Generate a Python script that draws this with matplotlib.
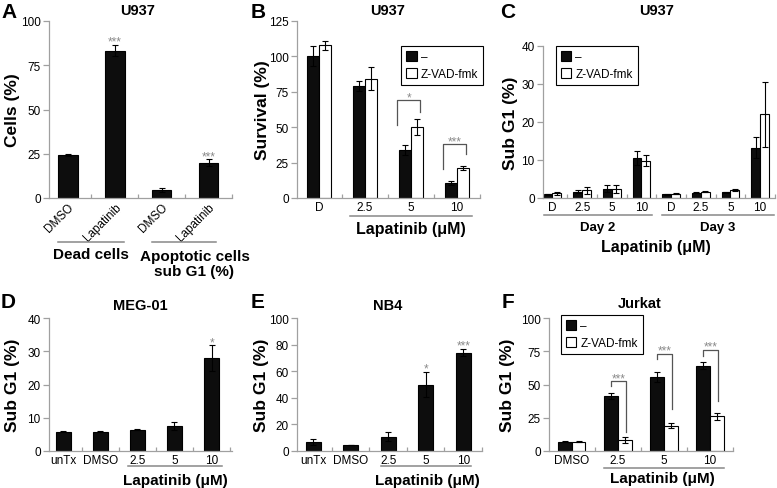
import numpy as np
import matplotlib
matplotlib.use('Agg')
import matplotlib.pyplot as plt

plt.rcParams['font.family'] = ['Liberation Sans', 'DejaVu Sans']

# ---- data ----
a_labels = ['DMSO', 'Lapatinib', 'DMSO', 'Lapatinib']
a_vals = [24.5, 83.3, 4.5, 20.0]
a_err = [0.5, 3.2, 1.0, 1.9]
a_stars = ['', '***', '', '***']

b_labels = ['D', '2.5', '5', '10']
b_ctrl = [100.5, 79.0, 34.0, 10.4]
b_ctrl_err = [7.0, 3.3, 3.3, 1.4]
b_zvad = [107.8, 84.2, 50.3, 21.2]
b_zvad_err = [3.0, 8.0, 5.6, 1.5]
b_brk_group = [2, 3]
b_brk_top = [69, 38]
b_brk_left = [51.5, 20.5]
b_brk_right = [60.7, 31]
b_brk_stars = ['*', '***']

c_labels = ['D', '2.5', '5', '10', 'D', '2.5', '5', '10']
c_ctrl = [1.0, 1.7, 2.5, 10.6, 1.0, 1.4, 1.5, 13.2]
c_ctrl_err = [0.15, 0.3, 1.0, 1.8, 0.1, 0.2, 0.2, 2.8]
c_zvad = [1.3, 2.0, 2.4, 9.8, 1.1, 1.7, 2.1, 22.0]
c_zvad_err = [0.4, 0.9, 1.0, 1.4, 0.1, 0.2, 0.2, 8.5]

d_labels = ['unTx', 'DMSO', '2.5', '5', '10']
d_vals = [5.8, 5.8, 6.4, 7.6, 28.0]
d_err = [0.2, 0.1, 0.2, 1.2, 3.8]
d_stars = ['', '', '', '', '*']

e_labels = ['unTx', 'DMSO', '2.5', '5', '10']
e_vals = [6.8, 4.5, 10.8, 50.0, 74.0]
e_err = [2.5, 0.3, 3.5, 9.7, 2.8]
e_stars = ['', '', '', '*', '***']

f_labels = ['DMSO', '2.5', '5', '10']
f_ctrl = [7.0, 41.3, 55.4, 64.2]
f_ctrl_err = [0.3, 2.3, 3.8, 2.6]
f_zvad = [7.0, 8.3, 18.9, 26.0]
f_zvad_err = [0.2, 2.0, 1.8, 2.5]
f_brk_group = [1, 2, 3]
f_brk_top = [52.6, 73, 76]
f_brk_left = [49, 69, 71.5]
f_brk_right = [14, 31.6, 37.6]
f_brk_stars = ['***', '***', '***']

legend_labels = ['\u2013', 'Z-VAD-fmk']

# ---- layout helpers ----
GRAY = '#a0a0a0'
STAR = '#8a8a8a'
W, H = 777, 489
fig = plt.figure(figsize=(W / 100, H / 100), dpi=100)


def box(l, t, r, b):
    return fig.add_axes([l / W, 1 - b / H, (r - l) / W, (b - t) / H])


def setup(ax, ymax, step, labels, xlim, ylabel, ylx):
    n = len(labels)
    ax.set_xlim(*xlim)
    ax.set_ylim(0, ymax)
    ax.set_yticks(np.arange(0, ymax + 0.1, step))
    ax.set_xticks(np.arange(n))
    ax.set_xticklabels(labels)
    ax.set_xticks(np.arange(n) + 0.5, minor=True)
    for s in ['top', 'right']:
        ax.spines[s].set_visible(False)
    for s in ['left', 'bottom']:
        ax.spines[s].set_color(GRAY)
        ax.spines[s].set_linewidth(0.9)
    ax.tick_params(axis='y', colors=GRAY, labelcolor='black', length=4,
                   width=0.9, labelsize=8.5, pad=2)
    ax.tick_params(axis='x', which='major', length=0, labelsize=8.5, pad=2)
    ax.tick_params(axis='x', which='minor', direction='in', length=3,
                   color=GRAY, width=0.9)
    ax.set_ylabel(ylabel, fontweight='bold', fontsize=12.5)
    ax.yaxis.label.set_verticalalignment('center')
    ax.yaxis.set_label_coords(ylx, 0.5)


ekw = dict(elinewidth=0.8, capsize=2.5, capthick=0.8, ecolor='black')


def single(ax, vals, err, w):
    x = np.arange(len(vals))
    ax.bar(x, vals, w, yerr=err, color='#0d0d0d', edgecolor='black',
           linewidth=0.8, error_kw=ekw)


def pair(ax, ctrl, cerr, zvad, zerr, w):
    x = np.arange(len(ctrl))
    ax.bar(x - w / 2, ctrl, w, yerr=cerr, color='#0d0d0d', edgecolor='black',
           linewidth=0.8, error_kw=ekw, label=legend_labels[0])
    ax.bar(x + w / 2, zvad, w, yerr=zerr, color='white', edgecolor='black',
           linewidth=0.8, error_kw=ekw, label=legend_labels[1])


def star(ax, x, y, s):
    if s:
        ax.annotate(s, (x, y), xytext=(0, 0), textcoords='offset points',
                    ha='center', va='baseline', color=STAR, fontsize=8.5)


def brackets(ax, groups, tops, lefts, rights, marks, dl, dr):
    for g, t, l, r, s in zip(groups, tops, lefts, rights, marks):
        xl, xr = g - dl, g + dr
        ax.plot([xl, xl, xr, xr], [l, t, t, r], color='#555555', lw=0.9)
        star(ax, (xl + xr) / 2, t, s)


def under(ax, x0, x1, yl, label, xt, yt, size):
    tr = ax.get_xaxis_transform()
    ax.plot([x0, x1], [yl, yl], transform=tr, color='#888888', lw=1.1,
            clip_on=False)
    ax.text(xt, yt, label, transform=tr, ha='center', va='center',
            fontweight='bold', fontsize=size, linespacing=1.15)


def title(ax, x, y, s):
    ax.text(x, y, s, transform=ax.transAxes, ha='center', va='center',
            fontweight='bold', fontsize=10.5)


def legend(ax, loc, anchor):
    leg = ax.legend(loc=loc, bbox_to_anchor=anchor, frameon=True,
                    fancybox=False, edgecolor='black', framealpha=1,
                    fontsize=8.5, handlelength=0.9, handleheight=0.9,
                    handletextpad=0.35, labelspacing=0.45, borderpad=0.4,
                    borderaxespad=0)
    leg.get_frame().set_linewidth(0.8)


# ---- A ----
axA = box(49, 22, 232, 199)
single(axA, a_vals, a_err, 0.42)
setup(axA, 100, 25, a_labels, (-0.4, 3.5), 'Cells (%)', -0.2)
axA.set_xticklabels(a_labels, rotation=45, ha='right', rotation_mode='anchor')
for i, s in enumerate(a_stars):
    star(axA, i, a_vals[i] + a_err[i], s)
title(axA, 0.486, 1.062, 'U937')
under(axA, -0.2, 1.2, -0.249, 'Dead cells', 0.5, -0.316, 11)
under(axA, 1.8, 3.15, -0.249, 'Apoptotic cells\nsub G1 (%)', 2.7, -0.37, 11)

# ---- B ----
axB = box(297, 22, 480, 199)
pair(axB, b_ctrl, b_ctrl_err, b_zvad, b_zvad_err, 0.27)
setup(axB, 125, 25, b_labels, (-0.48, 3.5), 'Survival (%)', -0.19)
brackets(axB, b_brk_group, b_brk_top, b_brk_left, b_brk_right, b_brk_stars,
         0.3, 0.2)
title(axB, 0.497, 1.062, 'U937')
under(axB, 0.67, 3.33, -0.102, 'Lapatinib (\u03bcM)', 2.0, -0.17, 11.5)
legend(axB, 'upper right', (1.016, 0.859))

# ---- C ----
axC = box(543, 47, 775, 199)
pair(axC, c_ctrl, c_ctrl_err, c_zvad, c_zvad_err, 0.3)
setup(axC, 40, 10, c_labels, (-0.32, 7.45), 'Sub G1 (%)', -0.142)
title(axC, 0.49, 1.237, 'U937')
under(axC, -0.3, 3.35, -0.112, 'Day 2', 1.52, -0.19, 9.5)
under(axC, 3.7, 7.45, -0.112, 'Day 3', 5.57, -0.19, 9.5)
axC.text(3.48, -0.316, 'Lapatinib (\u03bcM)', transform=axC.get_xaxis_transform(),
         ha='center', va='center', fontweight='bold', fontsize=11.5)
legend(axC, 'upper left', (0.056, 1.0))

# ---- D ----
axD = box(49, 319, 232, 452)
single(axD, d_vals, d_err, 0.4)
setup(axD, 40, 10, d_labels, (-0.38, 4.55), 'Sub G1 (%)', -0.2)
for i, s in enumerate(d_stars):
    star(axD, i, d_vals[i] + d_err[i], s)
title(axD, 0.497, 1.098, 'MEG-01')
under(axD, 1.75, 4.28, -0.113, 'Lapatinib (\u03bcM)', 3.03, -0.215, 11)

# ---- E ----
axE = box(297, 319, 482, 452)
single(axE, e_vals, e_err, 0.4)
setup(axE, 100, 20, e_labels, (-0.43, 4.5), 'Sub G1 (%)', -0.19)
for i, s in enumerate(e_stars):
    star(axE, i, e_vals[i] + e_err[i], s)
title(axE, 0.49, 1.098, 'NB4')
under(axE, 1.8, 4.2, -0.113, 'Lapatinib (\u03bcM)', 3.04, -0.215, 11)

# ---- F ----
axF = box(549, 319, 733, 452)
pair(axF, f_ctrl, f_ctrl_err, f_zvad, f_zvad_err, 0.3)
setup(axF, 100, 25, f_labels, (-0.49, 3.4), 'Sub G1 (%)', -0.228)
brackets(axF, f_brk_group, f_brk_top, f_brk_left, f_brk_right, f_brk_stars,
         0.15, 0.18)
title(axF, 0.495, 1.113, 'Jurkat')
under(axF, 0.7, 3.3, -0.128, 'Lapatinib (\u03bcM)', 1.97, -0.205, 11)
legend(axF, 'upper left', (0.065, 1.02))

# ---- panel letters ----
for s, x, y in [('A', 1, 12), ('B', 251, 12), ('C', 500, 12),
                ('D', 1, 302), ('E', 251, 302), ('F', 502, 303)]:
    fig.text(x / W, 1 - y / H, s, fontsize=15, fontweight='bold',
             ha='left', va='center')

fig.savefig('out.png', dpi=100)
